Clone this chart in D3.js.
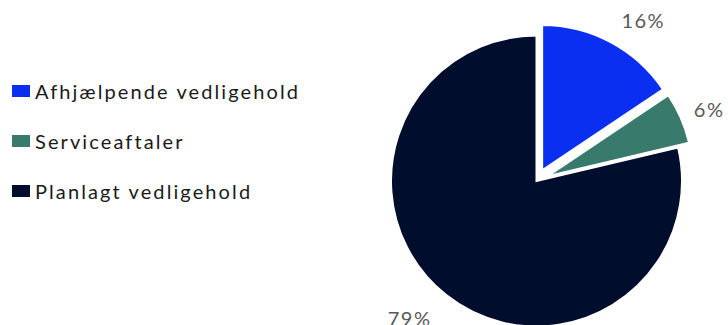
<!DOCTYPE html>
<html><head><meta charset="utf-8">
<script src="https://cdn.jsdelivr.net/npm/d3@7"></script>
<style>body{margin:0;background:#fff}svg{display:block}</style>
</head><body>
<script>
const categories = ["Afhjælpende vedligehold", "Serviceaftaler", "Planlagt vedligehold"];
const values = [15.6, 5.7, 78.7];
const labels = ["16%", "6%", "79%"];
const colors = ["#0b2ff0", "#387b6c", "#000d2c"];

const W = 728, H = 325;
const svg = d3.select("body").append("svg").attr("width", W).attr("height", H);
const font = "Lato, 'Open Sans', sans-serif";

const cx = 536.5, cy = 181, r = 145.5, explode = 12;
const pie = d3.pie().sort(null).value(d => d)(values);
const arc = d3.arc().innerRadius(0).outerRadius(r);
const g = svg.append("g").attr("transform", `translate(${cx},${cy})`);
const offsets = [explode, explode, 0];
g.selectAll("path").data(pie).join("path")
  .attr("d", arc)
  .attr("fill", (d, i) => colors[i])
  .attr("stroke", "#fff").attr("stroke-width", 2).attr("stroke-linejoin", "miter")
  .attr("transform", (d, i) => {
    const a = (d.startAngle + d.endAngle) / 2;
    return `translate(${Math.sin(a) * offsets[i]},${-Math.cos(a) * offsets[i]})`;
  });

// label placement: radius and small angular shift (degrees) per slice
const labelRadii = [193, 187, 187];
const labelShift = [5.5, 1, 4.4];
g.selectAll("text.lbl").data(pie).join("text")
  .attr("class", "lbl")
  .attr("x", (d, i) => { const a = (d.startAngle + d.endAngle) / 2 + labelShift[i] * Math.PI / 180; return Math.sin(a) * labelRadii[i]; })
  .attr("y", (d, i) => { const a = (d.startAngle + d.endAngle) / 2 + labelShift[i] * Math.PI / 180; return -Math.cos(a) * labelRadii[i]; })
  .attr("text-anchor", "middle").attr("dominant-baseline", "central")
  .attr("font-family", font).attr("font-size", 20).attr("letter-spacing", 1.5).attr("fill", "#595959")
  .text((d, i) => labels[i]);

const leg = svg.append("g");
categories.forEach((c, i) => {
  const y = 91 + i * 50;
  leg.append("rect").attr("x", 12).attr("y", y - 6).attr("width", 18).attr("height", 12).attr("fill", colors[i]);
  leg.append("text").attr("x", 35).attr("y", y).attr("dominant-baseline", "central")
    .attr("font-family", font).attr("font-size", 20).attr("letter-spacing", 2.1).attr("fill", "#1a1a1a").text(c);
});
</script>
</body></html>
